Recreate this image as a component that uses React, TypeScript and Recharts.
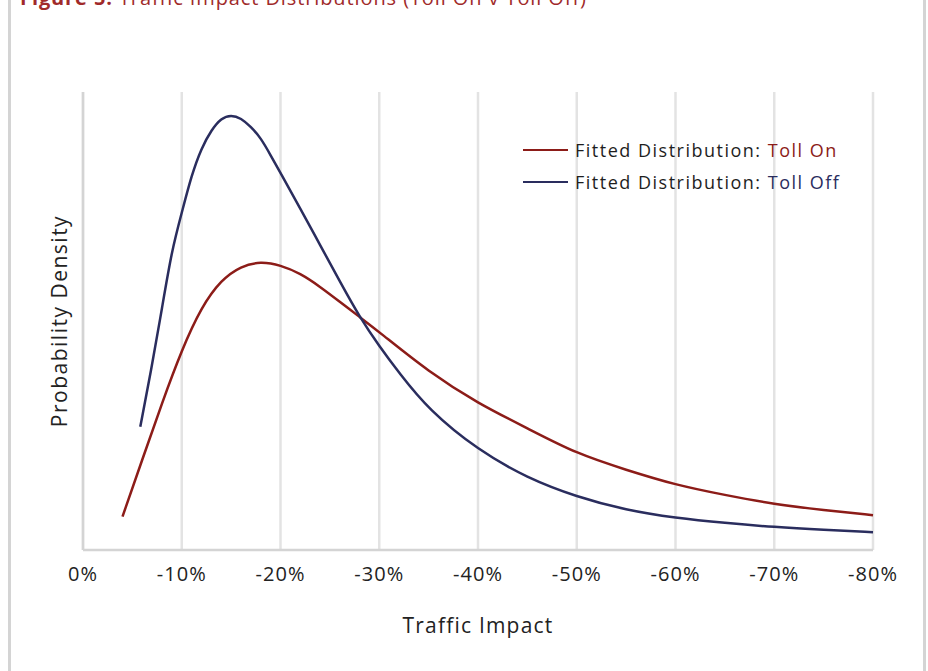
import { LineChart, Line, XAxis, YAxis, CartesianGrid, Legend } from 'recharts';

/* ---- data (x = traffic impact %, y = relative density) ---- */
const X_TICKS = [0, -10, -20, -30, -40, -50, -60, -70, -80];

const TOLL_ON_X = [-4, -6, -8, -10, -12, -14, -16, -18, -20, -22, -24, -26, -28, -30, -35, -40, -45, -50, -55, -60, -65, -70, -75, -80];
const TOLL_ON_Y = [7.3, 19.7, 32.1, 43.7, 53.1, 59.0, 62.0, 63.0, 62.2, 60.4, 57.5, 54.2, 50.9, 47.6, 38.9, 32.0, 26.6, 21.0, 17.5, 14.2, 12.0, 10.0, 8.7, 7.6];

const TOLL_OFF_X = [-5.8, -7, -8, -9, -10, -11, -12, -13, -14, -15, -16, -17, -18, -19, -20, -22, -24, -26, -28, -30, -32, -35, -40, -45, -50, -55, -60, -65, -70, -75, -80];
const TOLL_OFF_Y = [26.9, 40.4, 52.8, 65.5, 73.6, 81.9, 87.8, 91.7, 94.3, 95.0, 94.3, 92.4, 90.0, 86.2, 82.3, 74.6, 66.6, 58.7, 50.9, 44.5, 38.7, 30.6, 21.8, 15.7, 11.6, 8.7, 7.0, 5.9, 5.0, 4.4, 3.9];

const RED = '#8c1c18';
const NAVY = '#2a2d5e';
const FONT = '"Open Sans", sans-serif';

const tollOn = TOLL_ON_X.map((x, i) => ({ x, y: TOLL_ON_Y[i] }));
const tollOff = TOLL_OFF_X.map((x, i) => ({ x, y: TOLL_OFF_Y[i] }));

function LegendBox() {
  const rows = [
    { label: 'Toll On', color: RED },
    { label: 'Toll Off', color: NAVY },
  ];
  return (
    <div style={{ fontFamily: FONT, fontSize: 18, letterSpacing: 1.5, color: '#1e1e1e' }}>
      {rows.map((r) => (
        <div key={r.label} style={{ display: 'flex', alignItems: 'center', height: 32 }}>
          <span style={{ width: 45, height: 2.5, background: r.color, marginRight: 7 }} />
          <span>
            Fitted Distribution: <span style={{ color: r.color }}>{r.label}</span>
          </span>
        </div>
      ))}
    </div>
  );
}

export default function App() {
  return (
    <div style={{ position: 'absolute', left: 0, top: 0, width: 928, height: 671, background: '#fff', overflow: 'hidden', fontFamily: FONT }}>
      {/* frame */}
      <div style={{ position: 'absolute', left: 8, top: -40, width: 912, height: 800, border: '3px solid #d4d4d4' }} />
      {/* title (cut off at top, as in the source) */}
      <div style={{ position: 'absolute', left: 20, top: -16, fontSize: 20, letterSpacing: 0.9, color: '#a02a2a', whiteSpace: 'nowrap' }}>
        <b>Figure 5:</b> Traffic Impact Distributions (Toll On v Toll Off)
      </div>
      <div style={{ position: 'absolute', left: 0, top: 0 }}>
        <LineChart width={928} height={671} margin={{ top: 92, right: 55, left: 33, bottom: 0 }}>
          <CartesianGrid horizontal={false} stroke="#e3e3e3" strokeWidth={2.5} />
          <XAxis
            type="number"
            dataKey="x"
            domain={[-80, 0]}
            reversed
            ticks={X_TICKS}
            tickFormatter={(v: number) => `${v}%`}
            tick={{ fill: '#222', fontSize: 20, fontFamily: FONT, letterSpacing: 1 }}
            tickLine={false}
            tickMargin={11}
            axisLine={{ stroke: '#d4d4d4', strokeWidth: 2.5 }}
            height={121}
            label={{ value: 'Traffic Impact', position: 'insideBottom', offset: 38, fill: '#222', fontSize: 21, fontFamily: FONT, style: { letterSpacing: 1.2 } }}
          />
          <YAxis
            type="number"
            domain={[0, 100]}
            width={50}
            tick={false}
            tickLine={false}
            axisLine={{ stroke: '#d4d4d4', strokeWidth: 2.5 }}
            label={{ value: 'Probability Density', angle: -90, position: 'insideLeft', offset: 27, fill: '#222', fontSize: 21, fontFamily: FONT, style: { textAnchor: 'middle', letterSpacing: 1.5 } }}
          />
          <Legend
            layout="horizontal"
            verticalAlign="middle"
            align="center"
            wrapperStyle={{ position: 'absolute', top: 134, left: 523, width: 370 }}
            content={() => <LegendBox />}
          />
          <Line data={tollOn} dataKey="y" type="basis" stroke={RED} strokeWidth={2.5} dot={false} isAnimationActive={false} />
          <Line data={tollOff} dataKey="y" type="basis" stroke={NAVY} strokeWidth={2.5} dot={false} isAnimationActive={false} />
        </LineChart>
      </div>
    </div>
  );
}
